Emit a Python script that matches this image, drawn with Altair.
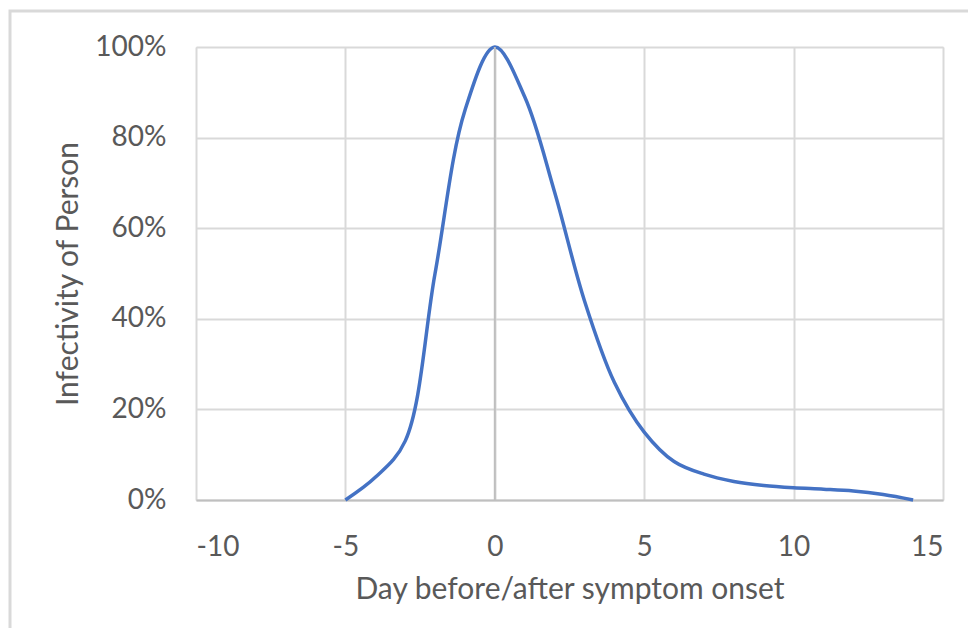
import altair as alt
import pandas as pd

days = [-5, -4, -3, -2, -1, 0, 1, 2, 3, 4, 5, 6, 7, 8, 9, 10, 11, 12, 13, 14]
infectivity = [0.0, 0.05, 0.13, 0.50, 0.86, 1.00, 0.89, 0.68, 0.44, 0.26, 0.15,
               0.085, 0.057, 0.041, 0.032, 0.027, 0.024, 0.02, 0.012, 0.0]
x_ticks = [-10, -5, 0, 5, 10, 15]
y_ticks = [0, 0.2, 0.4, 0.6, 0.8, 1.0]

df = pd.DataFrame({"day": days, "inf": infectivity})

FONT = "Lato"
TXT = "#595959"
W, H = 747, 453

x_enc = alt.X("day:Q", scale=alt.Scale(domain=[-10, 15], nice=False, zero=False),
              axis=alt.Axis(values=x_ticks, title="Day before/after symptom onset",
                            labelExpr="datum.value < 0 ? '-' + abs(datum.value) : '' + datum.value",
                            grid=True, gridColor="#d9d9d9", gridWidth=2,
                            domain=True, domainColor="#bfbfbf", domainWidth=2,
                            ticks=False, labelPadding=33, labelFontSize=28,
                            labelColor=TXT, labelFont=FONT,
                            titleFont=FONT, titleFontSize=30, titleColor=TXT,
                            titleFontWeight="normal", titlePadding=13))
y_enc = alt.Y("inf:Q", scale=alt.Scale(domain=[0, 1], nice=False),
              axis=alt.Axis(values=y_ticks, format=".0%", title="Infectivity of Person",
                            grid=True, gridColor="#d9d9d9", gridWidth=2,
                            domain=False, ticks=False, labelPadding=30,
                            labelFontSize=28, labelColor=TXT, labelFont=FONT,
                            titleFont=FONT, titleFontSize=30, titleColor=TXT,
                            titleFontWeight="normal", titlePadding=11))

frame = alt.Chart(alt.Data(values=[{"a": 1}])).mark_rect(
    fill=None, stroke="#d9d9d9", strokeWidth=3
).encode(x=alt.value(-186), x2=alt.value(900), y=alt.value(-36), y2=alt.value(700))

zero_line = alt.Chart(pd.DataFrame({"day": [0]})).mark_rule(
    color="#bfbfbf", strokeWidth=2
).encode(x=alt.X("day:Q", scale=alt.Scale(domain=[-10, 15], nice=False, zero=False)))

line = alt.Chart(df).mark_line(
    color="#4472c4", strokeWidth=3.5, interpolate="catmull-rom"
).encode(x=x_enc, y=y_enc)

chart = alt.layer(frame, line, zero_line).properties(
    width=W, height=H,
    autosize=alt.AutoSizeParams(type="none"),
    padding={"left": 188, "top": 39, "right": 25, "bottom": 128},
).configure_view(stroke=None).configure(background="white")

chart.save("out.html", embed_options={"renderer": "svg", "actions": False})
